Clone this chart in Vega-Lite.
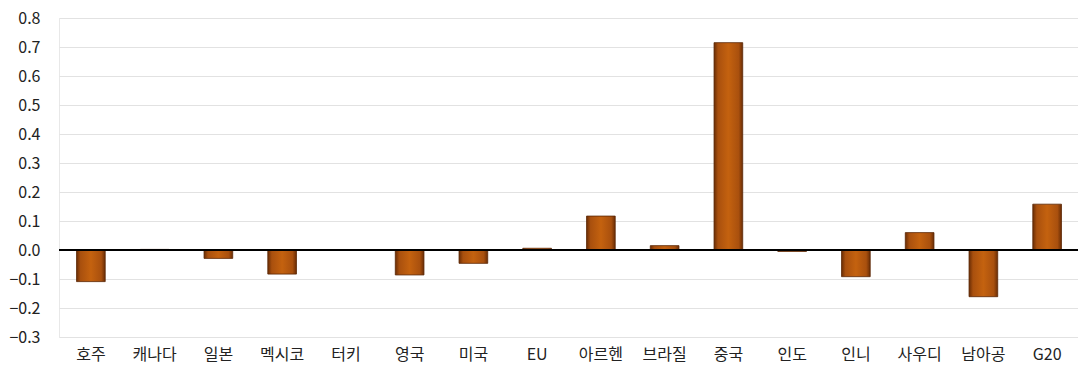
{
  "$schema": "https://vega.github.io/schema/vega-lite/v6.json",
  "autosize": "none",
  "width": 1020,
  "height": 319,
  "padding": {"left": 59, "top": 18, "right": 0, "bottom": 35},
  "background": "white",
  "data": {
    "values": [
      {"country": "호주", "value": -0.109},
      {"country": "캐나다", "value": 0.002},
      {"country": "일본", "value": -0.029},
      {"country": "멕시코", "value": -0.083},
      {"country": "터키", "value": 0.0},
      {"country": "영국", "value": -0.086},
      {"country": "미국", "value": -0.046},
      {"country": "EU", "value": 0.006},
      {"country": "아르헨", "value": 0.117},
      {"country": "브라질", "value": 0.015},
      {"country": "중국", "value": 0.715},
      {"country": "인도", "value": -0.005},
      {"country": "인니", "value": -0.092},
      {"country": "사우디", "value": 0.06},
      {"country": "남아공", "value": -0.161},
      {"country": "G20", "value": 0.158}
    ]
  },
  "config": {
    "view": {"stroke": "#e8e8e8", "strokeWidth": 1},
    "font": "Noto Sans CJK KR",
    "axisY": {
      "title": null,
      "format": ".1f",
      "labelFont": "Noto Sans CJK KR",
      "labelFontSize": 16,
      "labelColor": "#222222",
      "labelPadding": 19,
      "labelOverlap": false,
      "labelBound": false,
      "labelFlush": false,
      "ticks": false,
      "domain": false,
      "grid": true,
      "gridColor": "#e2e2e2",
      "gridWidth": 1
    }
  },
  "encoding": {
    "x": {
      "field": "country",
      "type": "nominal",
      "sort": null,
      "scale": {"paddingInner": 0.55, "paddingOuter": 0.275},
      "axis": {
        "title": null,
        "labelAngle": 0,
        "labelFont": "Noto Sans CJK KR",
        "labelFontSize": 16,
        "labelColor": "#222222",
        "labelPadding": 9,
        "labelOverlap": false,
        "ticks": false,
        "domain": false,
        "grid": false
      }
    }
  },
  "layer": [
    {
      "mark": {
        "type": "bar",
        "stroke": "#5a2604",
        "strokeWidth": 0.8,
        "color": {
          "gradient": "linear",
          "x1": 0, "y1": 0, "x2": 1, "y2": 0,
          "stops": [
            {"offset": 0, "color": "#6a2d05"},
            {"offset": 0.14, "color": "#a9500e"},
            {"offset": 0.5, "color": "#c4620f"},
            {"offset": 0.86, "color": "#a9500e"},
            {"offset": 1, "color": "#6a2d05"}
          ]
        }
      },
      "encoding": {
        "y": {
          "field": "value",
          "type": "quantitative",
          "scale": {"domain": [-0.3, 0.8], "nice": false},
          "axis": {"values": [-0.3, -0.2, -0.1, 0, 0.1, 0.2, 0.3, 0.4, 0.5, 0.6, 0.7, 0.8]}
        }
      }
    },
    {
      "mark": {"type": "rule", "color": "#000000", "strokeWidth": 2},
      "encoding": {
        "x": null,
        "y": {
          "datum": 0,
          "type": "quantitative",
          "axis": {"values": [-0.3, -0.2, -0.1, 0, 0.1, 0.2, 0.3, 0.4, 0.5, 0.6, 0.7, 0.8]}
        }
      }
    }
  ]
}
